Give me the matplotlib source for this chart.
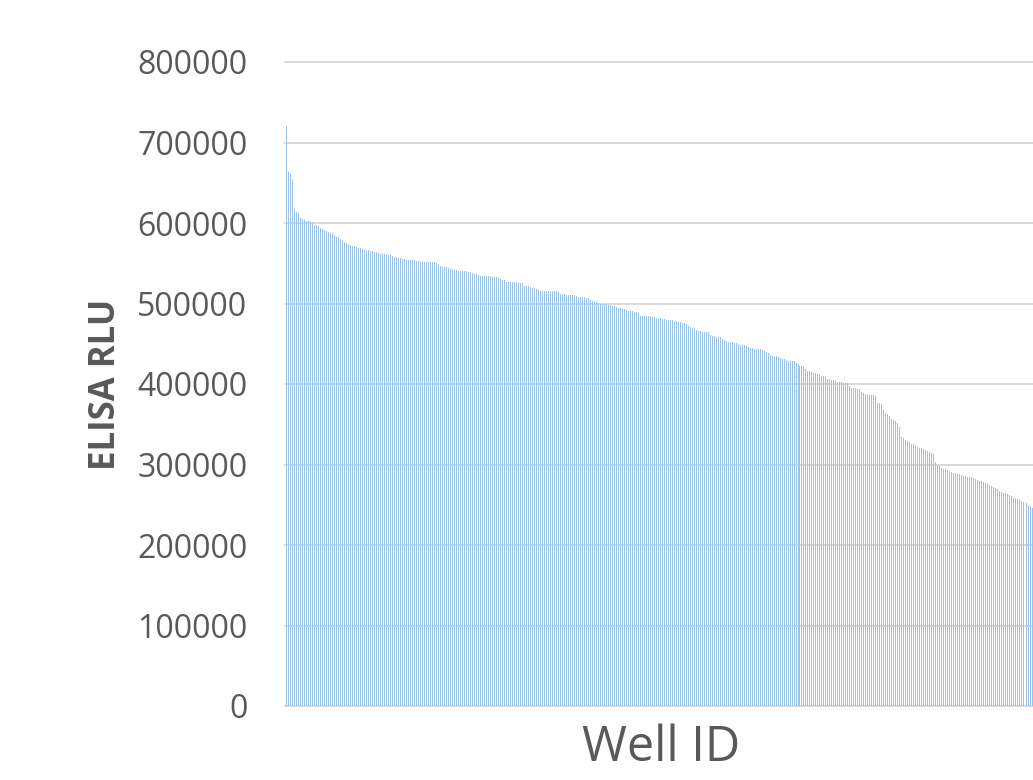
# ELISA luminescence per well, sorted from highest to lowest signal

import numpy as np
import matplotlib.pyplot as plt

# RLU readings (in thousands), wells ranked by signal
rlu_top = [720, 663, 661, 655, 618, 614, 612, 606, 605, 604, 603, 602, 601, 600,
           598, 597, 596, 594, 592, 591, 590, 589, 588, 587, 585, 583, 582, 580,
           578, 577, 575, 574, 573, 572, 571, 570, 569, 569, 568, 567, 566, 566,
           565, 565, 564]
rlu_upper = [564, 563, 562, 562, 561, 561, 560, 560, 559, 558, 558, 557, 556,
             555, 555, 554, 554, 554, 554, 554, 553, 553, 553, 552, 552, 552,
             552, 552, 551, 551, 550, 549, 546, 545, 545, 545, 544, 543, 543,
             542, 541, 540, 540, 540, 540, 540, 539, 539,
             538, 537, 537, 536, 534, 534, 534, 534, 534, 534, 533, 533, 533,
             532, 530, 529, 529, 527, 527, 527, 527, 527, 526, 525, 525, 525,
             522, 522, 522, 521, 519, 519, 518, 517, 516, 516, 516, 516, 516,
             515, 515, 515, 515, 514, 512]
rlu_middle = [512, 512, 511, 511, 511, 510, 510, 509, 508, 508, 508, 508, 507,
              507, 504, 503, 503, 502, 501, 500, 500, 500, 499, 498, 498, 497,
              497, 496, 495, 494, 493, 493, 492, 491, 491, 491, 490, 490, 488,
              485, 484, 484, 484, 484, 484, 483, 483,
              482, 482, 482, 481, 481, 479, 479, 479, 479, 478, 478, 477, 477,
              476, 476, 474, 472, 471, 470, 469, 467, 466, 466, 465, 465, 465,
              464, 461, 460, 460, 459, 459, 458, 456, 455, 453, 452, 452, 452,
              451, 451, 450, 449, 449, 448, 447]
rlu_lower = [446, 445, 445, 444, 444, 443, 443, 442, 441, 440, 439, 436, 435,
             435, 435, 434, 432, 431, 431, 430, 429, 429, 428, 428, 426, 425,
             422, 422, 421, 419, 416, 416, 415, 414, 414, 413, 411, 410, 410,
             409, 406, 406, 405, 405, 404, 403,
             402, 402, 401, 401, 401, 397, 395, 395, 395, 394, 394, 390, 389,
             388, 386, 386, 386, 386, 385, 377, 376, 375, 368, 364, 363, 360,
             356, 355, 354, 352, 347, 334, 333, 330, 329, 328, 326, 325, 324,
             322, 320, 320, 319, 318, 317, 315, 314, 313]
rlu_tail = [303, 300, 298, 296, 295, 294, 293, 292, 291, 290, 289, 288, 288,
            287, 286, 286, 285, 284, 284, 283, 282, 281, 280, 279, 278, 277,
            276, 275, 273, 272, 271, 269, 267, 266, 265, 264, 263, 262, 261,
            259, 258, 257, 256, 255, 253, 252, 250, 248, 246]

rlu = np.array(rlu_top + rlu_upper + rlu_middle + rlu_lower + rlu_tail) * 1000
wells = np.arange(len(rlu))

yticks = np.arange(0, 800001, 100000)

text_grey = '#595959'
grid_grey = '#D9D9D9'
bar_blue = '#9BC2E6'

plt.rcParams['font.family'] = ['Open Sans', 'DejaVu Sans']

fig = plt.figure(figsize=(10.33, 7.8), dpi=100)
ax = fig.add_axes([285 / 1033, 74 / 780, 748 / 1033, 644 / 780])

ax.bar(wells, rlu, width=0.5, color=bar_blue, linewidth=0, zorder=2)

ax.set_xlim(-0.5, len(rlu) - 0.5)
ax.set_ylim(0, 800000)
ax.set_yticks(yticks)
ax.set_yticklabels([str(v) for v in yticks], fontsize=23, color=text_grey)
ax.set_xticks([])
ax.tick_params(axis='y', length=0, pad=27)

for s in ax.spines.values():
    s.set_visible(False)
for v in yticks:
    ax.axhline(v, color=grid_grey, linewidth=1.4, zorder=1, clip_on=False)

fig.text(106 / 1033, 1 - 384 / 780, 'ELISA RLU', rotation=90, fontsize=25,
         fontweight='bold', color=text_grey, ha='center', va='center')
fig.text(661 / 1033, 1 - 748 / 780, 'Well ID', fontsize=35, color=text_grey,
         ha='center', va='center')

fig.savefig('out.png', dpi=100)
